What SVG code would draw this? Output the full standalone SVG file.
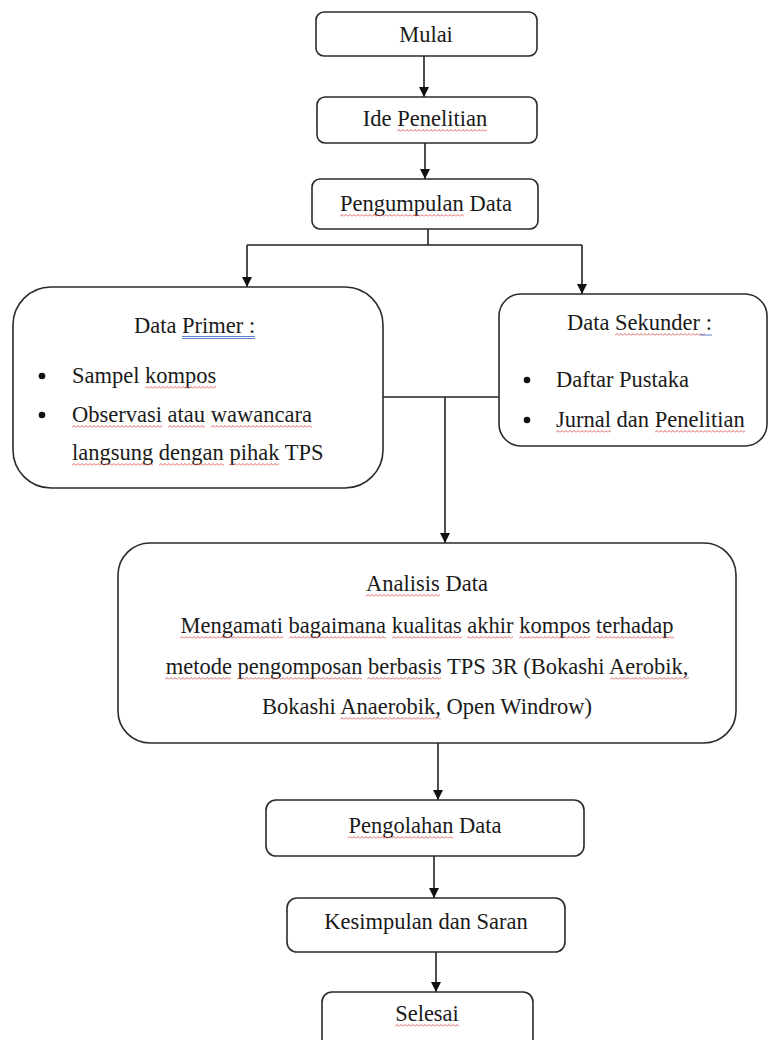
<svg xmlns="http://www.w3.org/2000/svg" width="768" height="1040" viewBox="0 0 768 1040">
<style>
.box{fill:#fff;stroke:#2b2b2b;stroke-width:1.6}
.t{font-family:"Liberation Serif","Times New Roman",serif;font-size:22.5px;fill:#1a1a1a}
.m{text-anchor:middle}
.ln{fill:none;stroke:#222;stroke-width:1.6}
.ar{marker-end:url(#ah)}
.sq{fill:url(#sq)}
.bl{stroke:#4a6fc4;stroke-width:0.9;fill:none}
</style>
<defs>
<marker id="ah" viewBox="0 0 10 10" refX="10" refY="5" markerWidth="10" markerHeight="10" markerUnits="userSpaceOnUse" orient="auto">
<path d="M0,0 L10,5 L0,10 z" fill="#111"/>
</marker>
<pattern id="sq" width="4" height="3" patternUnits="userSpaceOnUse">
<path d="M0 2.5 L2 0.5 L4 2.5" fill="none" stroke="#d9534f" stroke-width="0.9"/>
</pattern>
</defs>
<rect width="768" height="1040" fill="#fff"/>

<g id="connectors">
<path class="ln ar" d="M424 56 V97"/>
<path class="ln ar" d="M425 143 V179"/>
<path class="ln" d="M428 229 V245 M247 245 H582"/>
<path class="ln ar" d="M247 245 V287"/>
<path class="ln ar" d="M582 245 V294"/>
<path class="ln" d="M383 397 H499"/>
<path class="ln ar" d="M445 397 V543"/>
<path class="ln ar" d="M438 743 V800"/>
<path class="ln ar" d="M434 856 V898"/>
<path class="ln ar" d="M436 952 V992"/>
</g>

<g id="mulai">
<rect class="box" x="316" y="12" width="221" height="44" rx="8"/>
<text class="t m" x="426" y="42">Mulai</text>
</g>

<g id="ide-penelitian">
<rect class="box" x="317" y="97" width="220" height="46" rx="8"/>
<text class="t m" x="425" y="126">Ide Penelitian</text>
<rect class="sq" transform="translate(397,129)" width="90" height="3"/>
</g>

<g id="pengumpulan-data">
<rect class="box" x="312" y="179" width="226" height="50" rx="8"/>
<text class="t m" x="426" y="211">Pengumpulan Data</text>
<rect class="sq" transform="translate(340,214)" width="124" height="3"/>
</g>

<g id="data-primer">
<rect class="box" x="13" y="287" width="370" height="201" rx="38"/>
<text class="t" x="134" y="333">Data Primer :</text>
<path class="bl" d="M182 336.5 H255 M182 338.5 H255"/>
<circle cx="42" cy="376" r="3.3" fill="#111"/>
<text class="t" x="72" y="383">Sampel kompos</text>
<rect class="sq" transform="translate(145,386)" width="71" height="3"/>
<circle cx="42" cy="415" r="3.3" fill="#111"/>
<text class="t" x="72" y="422">Observasi atau wawancara</text>
<rect class="sq" transform="translate(72,425)" width="90" height="3"/>
<rect class="sq" transform="translate(168,425)" width="37" height="3"/>
<rect class="sq" transform="translate(211,425)" width="101" height="3"/>
<text class="t" x="72" y="460">langsung dengan pihak TPS</text>
<rect class="sq" transform="translate(72,463)" width="81" height="3"/>
<rect class="sq" transform="translate(159,463)" width="65" height="3"/>
<rect class="sq" transform="translate(229,463)" width="50" height="3"/>
</g>

<g id="data-sekunder">
<rect class="box" x="499" y="294" width="268" height="152" rx="22"/>
<text class="t" x="567" y="330">Data Sekunder :</text>
<rect class="sq" transform="translate(615,333)" width="90" height="3"/>
<path class="bl" d="M700 335 H712"/>
<circle cx="527" cy="380" r="3.3" fill="#111"/>
<text class="t" x="556" y="387">Daftar Pustaka</text>
<circle cx="527" cy="420" r="3.3" fill="#111"/>
<text class="t" x="556" y="427">Jurnal dan Penelitian</text>
<rect class="sq" transform="translate(556,430)" width="55" height="3"/>
<rect class="sq" transform="translate(655,430)" width="90" height="3"/>
</g>

<g id="analisis-data">
<rect class="box" x="118" y="543" width="618" height="200" rx="32"/>
<text class="t m" x="427" y="591">Analisis Data</text>
<rect class="sq" transform="translate(366,594)" width="74" height="3"/>
<text class="t m" x="427" y="633">Mengamati bagaimana kualitas akhir kompos terhadap</text>
<rect class="sq" transform="translate(180,636)" width="103" height="3"/>
<rect class="sq" transform="translate(289,636)" width="97" height="3"/>
<rect class="sq" transform="translate(392,636)" width="70" height="3"/>
<rect class="sq" transform="translate(467,636)" width="46" height="3"/>
<rect class="sq" transform="translate(519,636)" width="71" height="3"/>
<rect class="sq" transform="translate(596,636)" width="78" height="3"/>
<text class="t m" x="427" y="674">metode pengomposan berbasis TPS 3R (Bokashi Aerobik,</text>
<rect class="sq" transform="translate(165,677)" width="66" height="3"/>
<rect class="sq" transform="translate(237,677)" width="125" height="3"/>
<rect class="sq" transform="translate(367,677)" width="74" height="3"/>
<rect class="sq" transform="translate(610,677)" width="79" height="3"/>
<text class="t m" x="427" y="714">Bokashi Anaerobik, Open Windrow)</text>
<rect class="sq" transform="translate(340,717)" width="101" height="3"/>
</g>

<g id="pengolahan-data">
<rect class="box" x="266" y="800" width="318" height="56" rx="10"/>
<text class="t m" x="425" y="833">Pengolahan Data</text>
<rect class="sq" transform="translate(348,836)" width="105" height="3"/>
</g>

<g id="kesimpulan">
<rect class="box" x="287" y="898" width="278" height="54" rx="10"/>
<text class="t m" x="426" y="929">Kesimpulan dan Saran</text>
</g>

<g id="selesai">
<rect class="box" x="322" y="992" width="211" height="60" rx="10"/>
<text class="t m" x="427" y="1021">Selesai</text>
<rect class="sq" transform="translate(395,1024)" width="64" height="3"/>
</g>
</svg>
